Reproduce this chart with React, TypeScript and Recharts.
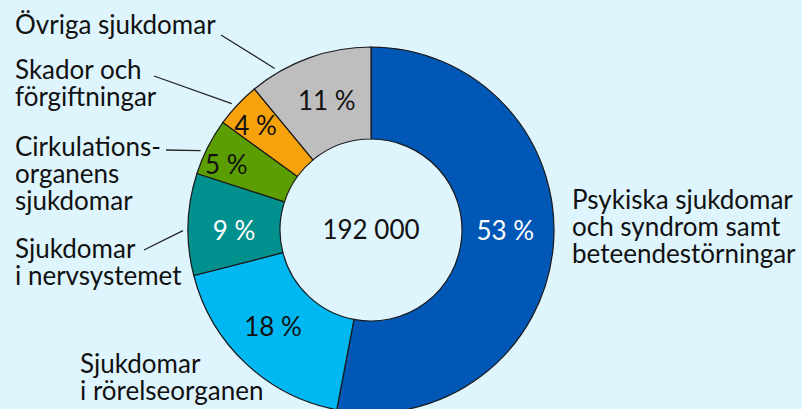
import { PieChart, Pie, Cell } from "recharts";

const categories = [
  "Psykiska sjukdomar och syndrom samt beteendestörningar",
  "Sjukdomar i rörelseorganen",
  "Sjukdomar i nervsystemet",
  "Cirkulationsorganens sjukdomar",
  "Skador och förgiftningar",
  "Övriga sjukdomar",
];
const shares = [53, 18, 9, 5, 4, 11];
const total = "192 000";

const colors = ["#0057b5", "#00b8f1", "#00918e", "#5b9e02", "#f7a20a", "#bebebe"];
const pctColors = ["#fff", "#111", "#fff", "#111", "#111", "#111"];
// how far out (0 = inner edge, 1 = outer edge) the percentage sits, and its angle nudge
const pctRadius = [0.47, 0.5, 0.5, 0.74, 0.71, 0.5];
const pctShift = [5.4, -2.4, 1.8, 2.5, 0.8, -1];

// outside label text blocks, with the start of the leader line
const labelLayout: Record<string, { x: number; y: number; lines: string[]; from?: [number, number]; shift?: number }> = {
  "Psykiska sjukdomar och syndrom samt beteendestörningar": {
    x: 572, y: 209, lines: ["Psykiska sjukdomar", "och syndrom samt", "beteendestörningar"],
  },
  "Sjukdomar i rörelseorganen": { x: 80, y: 373, lines: ["Sjukdomar", "i rörelseorganen"] },
  "Sjukdomar i nervsystemet": {
    x: 15, y: 258, lines: ["Sjukdomar", "i nervsystemet"], from: [144, 250], shift: 2,
  },
  "Cirkulationsorganens sjukdomar": {
    x: 15, y: 156, lines: ["Cirkulations-", "organens", "sjukdomar"], from: [166, 150], shift: 2,
  },
  "Skador och förgiftningar": {
    x: 15, y: 79, lines: ["Skador och", "förgiftningar"], from: [154, 76], shift: 1,
  },
  "Övriga sjukdomar": { x: 15, y: 34, lines: ["Övriga sjukdomar"], from: [221, 35], shift: 11 },
};

const data = categories.map((name, i) => ({ name, value: shares[i] }));

const CX = 371;
const CY = 230;
const INNER = 91;
const OUTER = 183;
const FONT = "Lato, 'Noto Sans', sans-serif";
const FS = 26;
const RAD = Math.PI / 180;

function renderLabel(props: any) {
  const { midAngle, index } = props;
  const cx = props.cx ?? CX;
  const cy = props.cy ?? CY;
  const ir = props.innerRadius ?? INNER;
  const or = props.outerRadius ?? OUTER;
  const r = ir + (or - ir) * pctRadius[index];
  const pa = (midAngle + pctShift[index]) * RAD;
  const px = cx + r * Math.cos(-pa);
  const py = cy + r * Math.sin(-pa);
  const lay = labelLayout[categories[index]];
  let leader = null;
  if (lay.from) {
    const a = (midAngle + (lay.shift ?? 0)) * RAD;
    const ex = cx + (or + 5) * Math.cos(-a);
    const ey = cy + (or + 5) * Math.sin(-a);
    leader = <line x1={lay.from[0]} y1={lay.from[1]} x2={ex} y2={ey} stroke="#222" strokeWidth={1.3} />;
  }
  return (
    <g key={`lbl-${index}`}>
      <text
        x={px}
        y={py}
        fill={pctColors[index]}
        textAnchor="middle"
        dominantBaseline="central"
        fontFamily={FONT}
        fontSize={FS}
      >
        {`${shares[index]} %`}
      </text>
      {leader}
      <text x={lay.x} y={lay.y} fill="#111" fontFamily={FONT} fontSize={FS}>
        {lay.lines.map((l, j) => (
          <tspan key={j} x={lay.x} y={lay.y + j * 27}>
            {l}
          </tspan>
        ))}
      </text>
    </g>
  );
}

export default function App() {
  return (
    <div style={{ position: "absolute", left: 0, top: 0, width: 802, height: 409, background: "#dff5fd", overflow: "hidden" }}>
      <PieChart width={802} height={409} margin={{ top: 0, right: 0, bottom: 0, left: 0 }}>
        <Pie
          data={data}
          dataKey="value"
          nameKey="name"
          cx={CX}
          cy={CY}
          innerRadius={INNER}
          outerRadius={OUTER}
          startAngle={90}
          endAngle={-270}
          stroke="#1a1a1a"
          strokeWidth={1.2}
          label={renderLabel}
          labelLine={false}
          isAnimationActive={false}
        >
          {data.map((d, i) => (
            <Cell key={d.name} fill={colors[i]} />
          ))}
        </Pie>
        <text x={CX} y={CY - 1} textAnchor="middle" dominantBaseline="central" fontFamily={FONT} fontSize={FS} fill="#111">
          {total}
        </text>
      </PieChart>
    </div>
  );
}
